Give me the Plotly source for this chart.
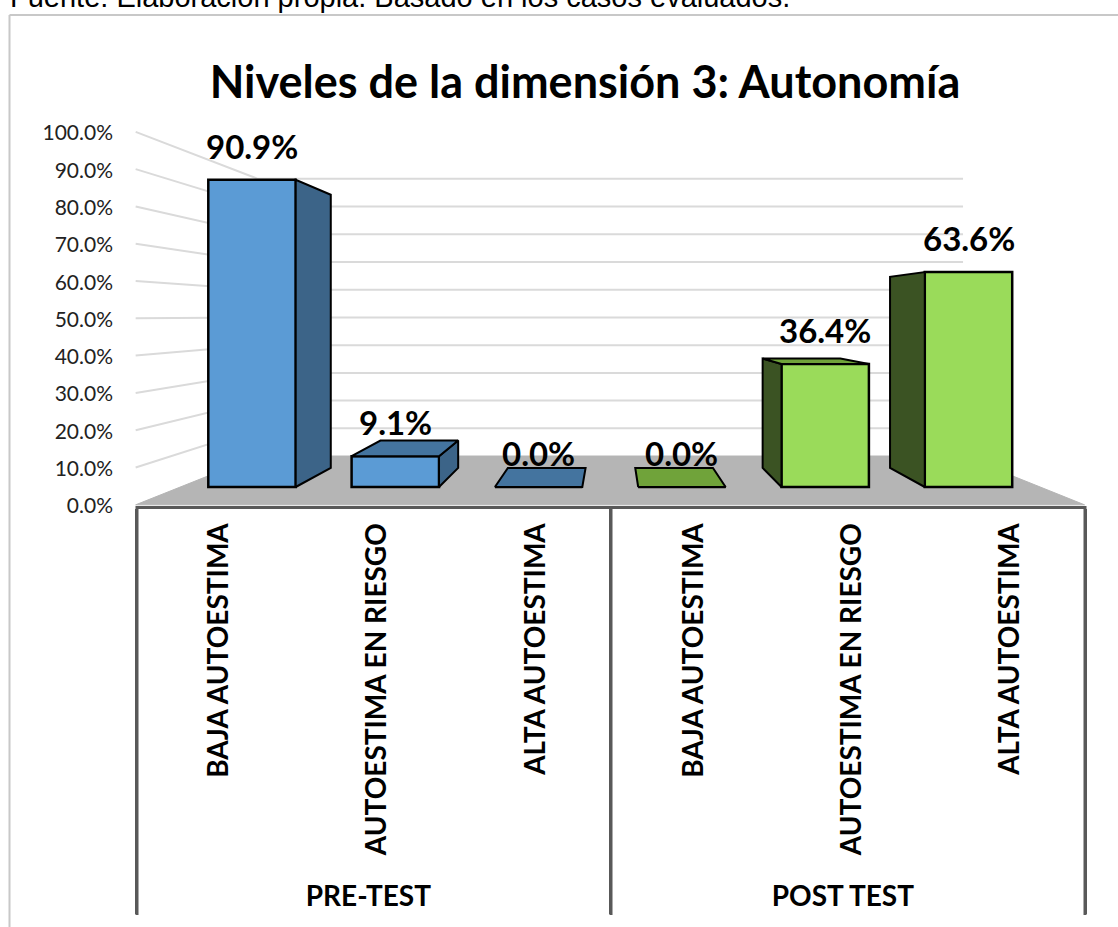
import plotly.graph_objects as go

W, H = 1118, 927
groups = ["PRE-TEST"] * 3 + ["POST TEST"] * 3
categories = ["BAJA AUTOESTIMA", "AUTOESTIMA EN RIESGO", "ALTA AUTOESTIMA"] * 2
values = [90.9, 9.1, 0.0, 0.0, 36.4, 63.6]
value_labels = ["90.9%", "9.1%", "0.0%", "0.0%", "36.4%", "63.6%"]
y_ticks = [0, 10, 20, 30, 40, 50, 60, 70, 80, 90, 100]
front_colors = ["#5B9BD5"] * 3 + ["#9ADB5A"] * 3
side_colors = ["#3C6488"] * 3 + ["#3B5323"] * 3
top_colors = ["#44749F"] * 3 + ["#70A33A"] * 3

FONT = "Lato"
BAR_WIDTH = 0.61
PX_PER_VAL, PX_PER_IDX = 3.38, 143.3
BASE_PX, FIRST_PX = 487, 252
VX, VY = 2.51, 50.9            # vanishing point in bar-plane data units
S_BACKBAR, S_AXIS, S_WALL = 0.889, 1.1036, 0.82
X0, X1 = -0.5, 5.5


def proj(x, v, s):
    return VX + (x - VX) * s, VY + (v - VY) * s


fig = go.Figure()

# carrier trace for the visible category axis
fig.add_trace(go.Scatter(x=[groups, categories], y=values, mode="markers",
                         marker=dict(opacity=0), hoverinfo="skip", showlegend=False))


def poly(pts, fill, line, width, axes):
    xs = [p[0] for p in pts] + [pts[0][0]]
    ys = [p[1] for p in pts] + [pts[0][1]]
    fig.add_trace(go.Scatter(x=xs, y=ys, mode="lines", fill="toself", fillcolor=fill,
                             line=dict(color=line, width=width), hoverinfo="skip",
                             showlegend=False, xaxis=axes[0], yaxis=axes[1]))


# floor
poly([proj(X0, 0, S_AXIS), proj(X1, 0, S_AXIS), proj(X1, 0, S_WALL), proj(X0, 0, S_WALL)],
     "#B5B5B5", "#B5B5B5", 1, ("x2", "y2"))

# wall gridlines
for t in y_ticks[1:]:
    a, b, c = proj(X0, t, S_AXIS), proj(X0, t, S_WALL), proj(X1, t, S_WALL)
    fig.add_trace(go.Scatter(x=[a[0], b[0], c[0]], y=[a[1], b[1], c[1]], mode="lines",
                             line=dict(color="#DADADA", width=2), hoverinfo="skip",
                             showlegend=False, xaxis="x2", yaxis="y2"))

# bars: front faces
fig.add_trace(go.Bar(x=list(range(6)), y=values, width=BAR_WIDTH,
                     marker=dict(color=front_colors, line=dict(color="#000000", width=2.5)),
                     showlegend=False, xaxis="x3", yaxis="y3"))

# bars: side and top faces
for i, v in enumerate(values):
    l, r = i - BAR_WIDTH / 2, i + BAR_WIDTH / 2
    if v > 0:
        e = r if r < VX else l
        poly([(e, 0), (e, v), proj(e, v, S_BACKBAR), proj(e, 0, S_BACKBAR)],
             side_colors[i], "#000000", 2, ("x3", "y3"))
    if v < VY:
        poly([(l, v), (r, v), proj(r, v, S_BACKBAR), proj(l, v, S_BACKBAR)],
             top_colors[i], "#000000", 2, ("x3", "y3"))

annotations = [
    dict(x=i, y=v, xref="x3", yref="y3", text=lbl, showarrow=False, yshift=34,
         yanchor="middle", font=dict(family=FONT, size=33, color="#000000", weight="bold"))
    for i, (v, lbl) in enumerate(zip(values, value_labels))
]
annotations.append(dict(x=(8 - FIRST_PX) / PX_PER_IDX, y=BASE_PX / PX_PER_VAL, xref="x2", yref="y2",
                        xanchor="left", yanchor="middle", yshift=3, showarrow=False,
                        text="Fuente: Elaboración propia. Basado en los casos evaluados.",
                        font=dict(family="Liberation Sans", size=29, color="#000000")))

shapes = [
    dict(type="line", xref="paper", yref="paper", x0=9.5 / W, x1=1, y0=1 - 15 / H, y1=1 - 15 / H,
         line=dict(color="#C8C8C8", width=2)),
    dict(type="line", xref="paper", yref="paper", x0=9.5 / W, x1=9.5 / W, y0=0, y1=1 - 15 / H,
         line=dict(color="#C8C8C8", width=2)),
]
for px in (137, 611, 1085):
    shapes.append(dict(type="line", xref="paper", yref="paper", x0=px / W, x1=px / W,
                       y0=1 - 506 / H, y1=1 - 915 / H, line=dict(color="#595959", width=3)))

fig.update_layout(
    width=W, height=H, autosize=False,
    margin=dict(l=0, r=0, t=0, b=0, autoexpand=False),
    paper_bgcolor="#FFFFFF", plot_bgcolor="rgba(0,0,0,0)",
    barmode="overlay",
    title=dict(text="<b>Niveles de la dimensión 3: Autonomía</b>", x=585 / W, y=1 - 82 / H,
               xanchor="center", yanchor="middle",
               font=dict(family=FONT, size=45, color="#000000")),
    xaxis=dict(domain=[136 / W, 1085 / W], anchor="y", range=[-0.5, 5.5], showline=True,
               linecolor="#595959", linewidth=3, ticklabelshift=4, ticklabelstandoff=3,
               showgrid=False, zeroline=False, ticks="", tickangle=-90, showdividers=True,
               dividercolor="#595959", dividerwidth=3,
               tickfont=dict(family=FONT, size=28, color="#000000", weight="bold")),
    yaxis=dict(domain=[(H - 506) / H, (H - 133) / H], range=[0, 100], anchor="free",
               position=113 / W, tickvals=y_ticks, ticktext=[f"{t:.1f}%" for t in y_ticks],
               showgrid=False, zeroline=False, showline=False, ticks="",
               tickfont=dict(family=FONT, size=21, color="#222222")),
    xaxis2=dict(domain=[0, 1], range=[-FIRST_PX / PX_PER_IDX, (W - FIRST_PX) / PX_PER_IDX],
                visible=False, anchor="y2"),
    yaxis2=dict(domain=[0, 1], range=[(BASE_PX - H) / PX_PER_VAL, BASE_PX / PX_PER_VAL],
                visible=False, anchor="x2"),
    xaxis3=dict(range=[-FIRST_PX / PX_PER_IDX, (W - FIRST_PX) / PX_PER_IDX],
                overlaying="x2", visible=False, anchor="y3"),
    yaxis3=dict(range=[(BASE_PX - H) / PX_PER_VAL, BASE_PX / PX_PER_VAL],
                overlaying="y2", visible=False, anchor="x3"),
    annotations=annotations,
    shapes=shapes,
)

fig.write_html("out.html", config={"displayModeBar": False},
               post_script="document.body.style.margin='0';")
